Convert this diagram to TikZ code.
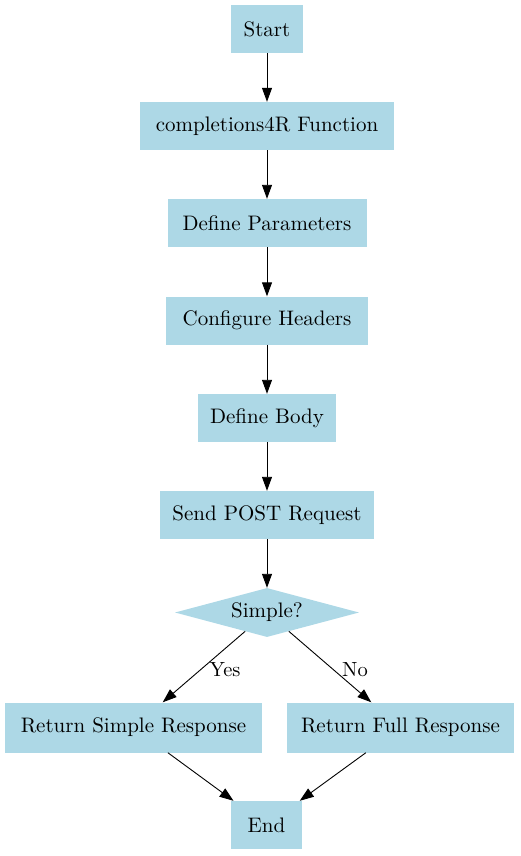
\documentclass[tikz,border=0pt]{standalone}
\usepackage{fontspec}
\setmainfont{lmroman10-regular.otf}
\usetikzlibrary{shapes.geometric,arrows.meta}
\definecolor{lblue}{HTML}{ADD8E6}
\begin{document}
\begin{tikzpicture}[x=1pt,y=-1pt,
  every node/.style={font=\fontsize{21}{25}\selectfont},
  box/.style={rectangle,fill=lblue,draw=none,minimum height=48pt,inner sep=0pt},
  dec/.style={diamond,fill=lblue,draw=none,inner sep=0pt,shape aspect=3.75,minimum width=184pt,minimum height=49pt},
  arr/.style={-{Triangle[length=14pt,width=10pt]},line width=0.9pt,black},
  elab/.style={font=\fontsize{20.5}{24}\selectfont}]
\useasboundingbox (0,0) rectangle (520,856);
\node[box,minimum width=72pt] (start) at (267,29) {Start};
\node[box,minimum width=254pt] (comp) at (267,126) {completions4R Function};
\node[box,minimum width=199pt] (params) at (267,223) {Define Parameters};
\node[box,minimum width=202pt] (headers) at (267,320.5) {Configure Headers};
\node[box,minimum width=138pt] (body) at (267,418) {Define Body};
\node[box,minimum width=214pt] (post) at (267,515) {Send POST Request};
\node[dec] (simple) at (267,612.5) {Simple?};
\node[box,minimum width=257pt,minimum height=50pt] (rsimple) at (133.5,727.5) {Return Simple Response};
\node[box,minimum width=227pt,minimum height=50pt] (rfull) at (400.5,727.5) {Return Full Response};
\node[box,minimum width=71pt] (end) at (266.5,825) {End};
\draw[arr] (start) -- (comp);
\draw[arr] (comp) -- (params);
\draw[arr] (params) -- (headers);
\draw[arr] (headers) -- (body);
\draw[arr] (body) -- (post);
\draw[arr] (post) -- (simple);
\draw[arr] (simple) -- (rsimple);
\draw[arr] (simple) -- (rfull);
\draw[arr] (rsimple) -- (end);
\draw[arr] (rfull) -- (end);
\node[elab] (yes) at (225,670) {Yes};
\node[elab] (no) at (355,670) {No};
\end{tikzpicture}
\end{document}
